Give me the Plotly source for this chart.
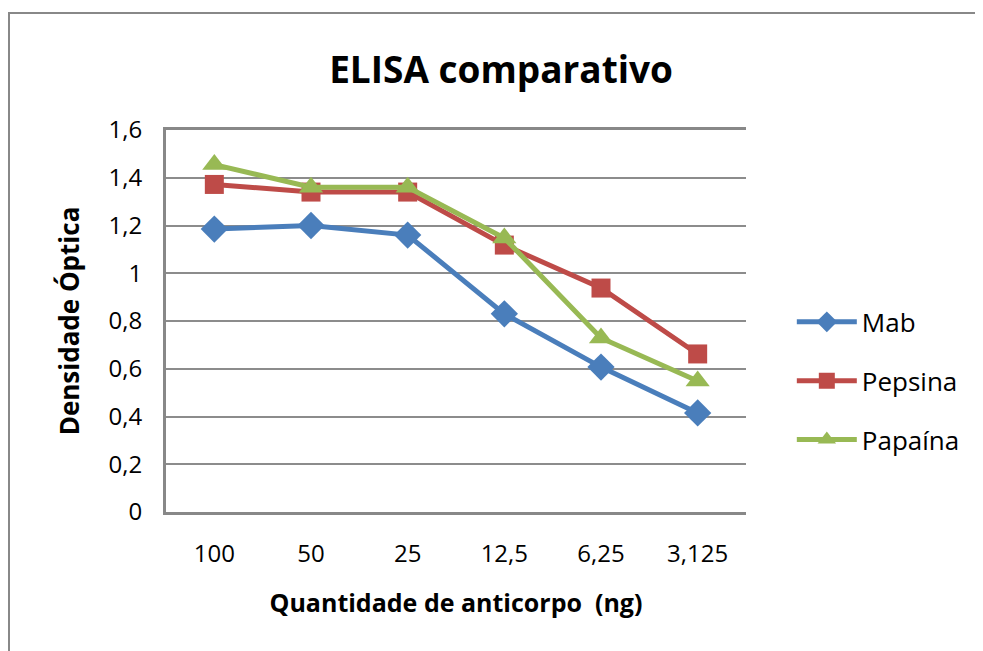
import plotly.graph_objects as go

# Data
doses = ["100", "50", "25", "12,5", "6,25", "3,125"]
mab = [1.185, 1.20, 1.16, 0.83, 0.607, 0.415]
pepsina = [1.372, 1.34, 1.34, 1.118, 0.938, 0.662]
papaina = [1.455, 1.36, 1.36, 1.148, 0.729, 0.549]

series = [
    ("Mab", mab, "#4A7EBB", "diamond", 21),
    ("Pepsina", pepsina, "#BE4B48", "square", 19),
    ("Papaína", papaina, "#98B954", "triangle-up", 21),
]

font_family = "'Open Sans', Lato, sans-serif"

fig = go.Figure()
for i, (name, vals, color, symbol, size) in enumerate(series):
    fig.add_trace(go.Scatter(
        x=doses, y=vals, name=name,
        mode="lines+markers",
        line=dict(color=color, width=5),
        marker=dict(symbol=symbol, size=size, color=color),
        legendgroup=f"g{i}",
    ))

fig.update_layout(
    width=983, height=651,
    paper_bgcolor="white", plot_bgcolor="white",
    margin=dict(l=158, r=245, t=122, b=147, autoexpand=False),
    separators=",.",
    font=dict(family=font_family, size=24, color="black"),
    title=dict(text="<b>ELISA comparativo</b>", x=0.5016, xanchor="center",
               y=0.905, yanchor="middle", font=dict(size=37)),
    showlegend=True,
    legend=dict(x=1.079, y=0.343, xanchor="left", yanchor="middle",
                font=dict(size=26), tracegroupgap=22, itemwidth=60),
    shapes=[dict(type="rect", xref="paper", yref="paper",
                 x0=-0.2707, x1=1.42, y0=-0.39, y1=1.306,
                 line=dict(color="#888888", width=2), layer="below")],
)

fig.update_xaxes(
    type="category", range=[-0.5, 5.5],
    showline=True, mirror=True, linecolor="#888888", linewidth=3,
    showgrid=False, ticks="", ticklabelstandoff=18,
    tickfont=dict(size=24),
    title=dict(text="<b>Quantidade de anticorpo  (ng)</b>", font=dict(size=25), standoff=27),
)
fig.update_yaxes(
    range=[0, 1.6], dtick=0.2, tick0=0,
    showline=True, linecolor="#888888", linewidth=3,
    showgrid=True, gridcolor="#8c8c8c", gridwidth=2,
    zeroline=False, ticks="", ticklabelstandoff=16,
    tickfont=dict(size=24),
    title=dict(text="<b>Densidade Óptica</b>", font=dict(size=26), standoff=22),
)

fig.write_html("out.html")
